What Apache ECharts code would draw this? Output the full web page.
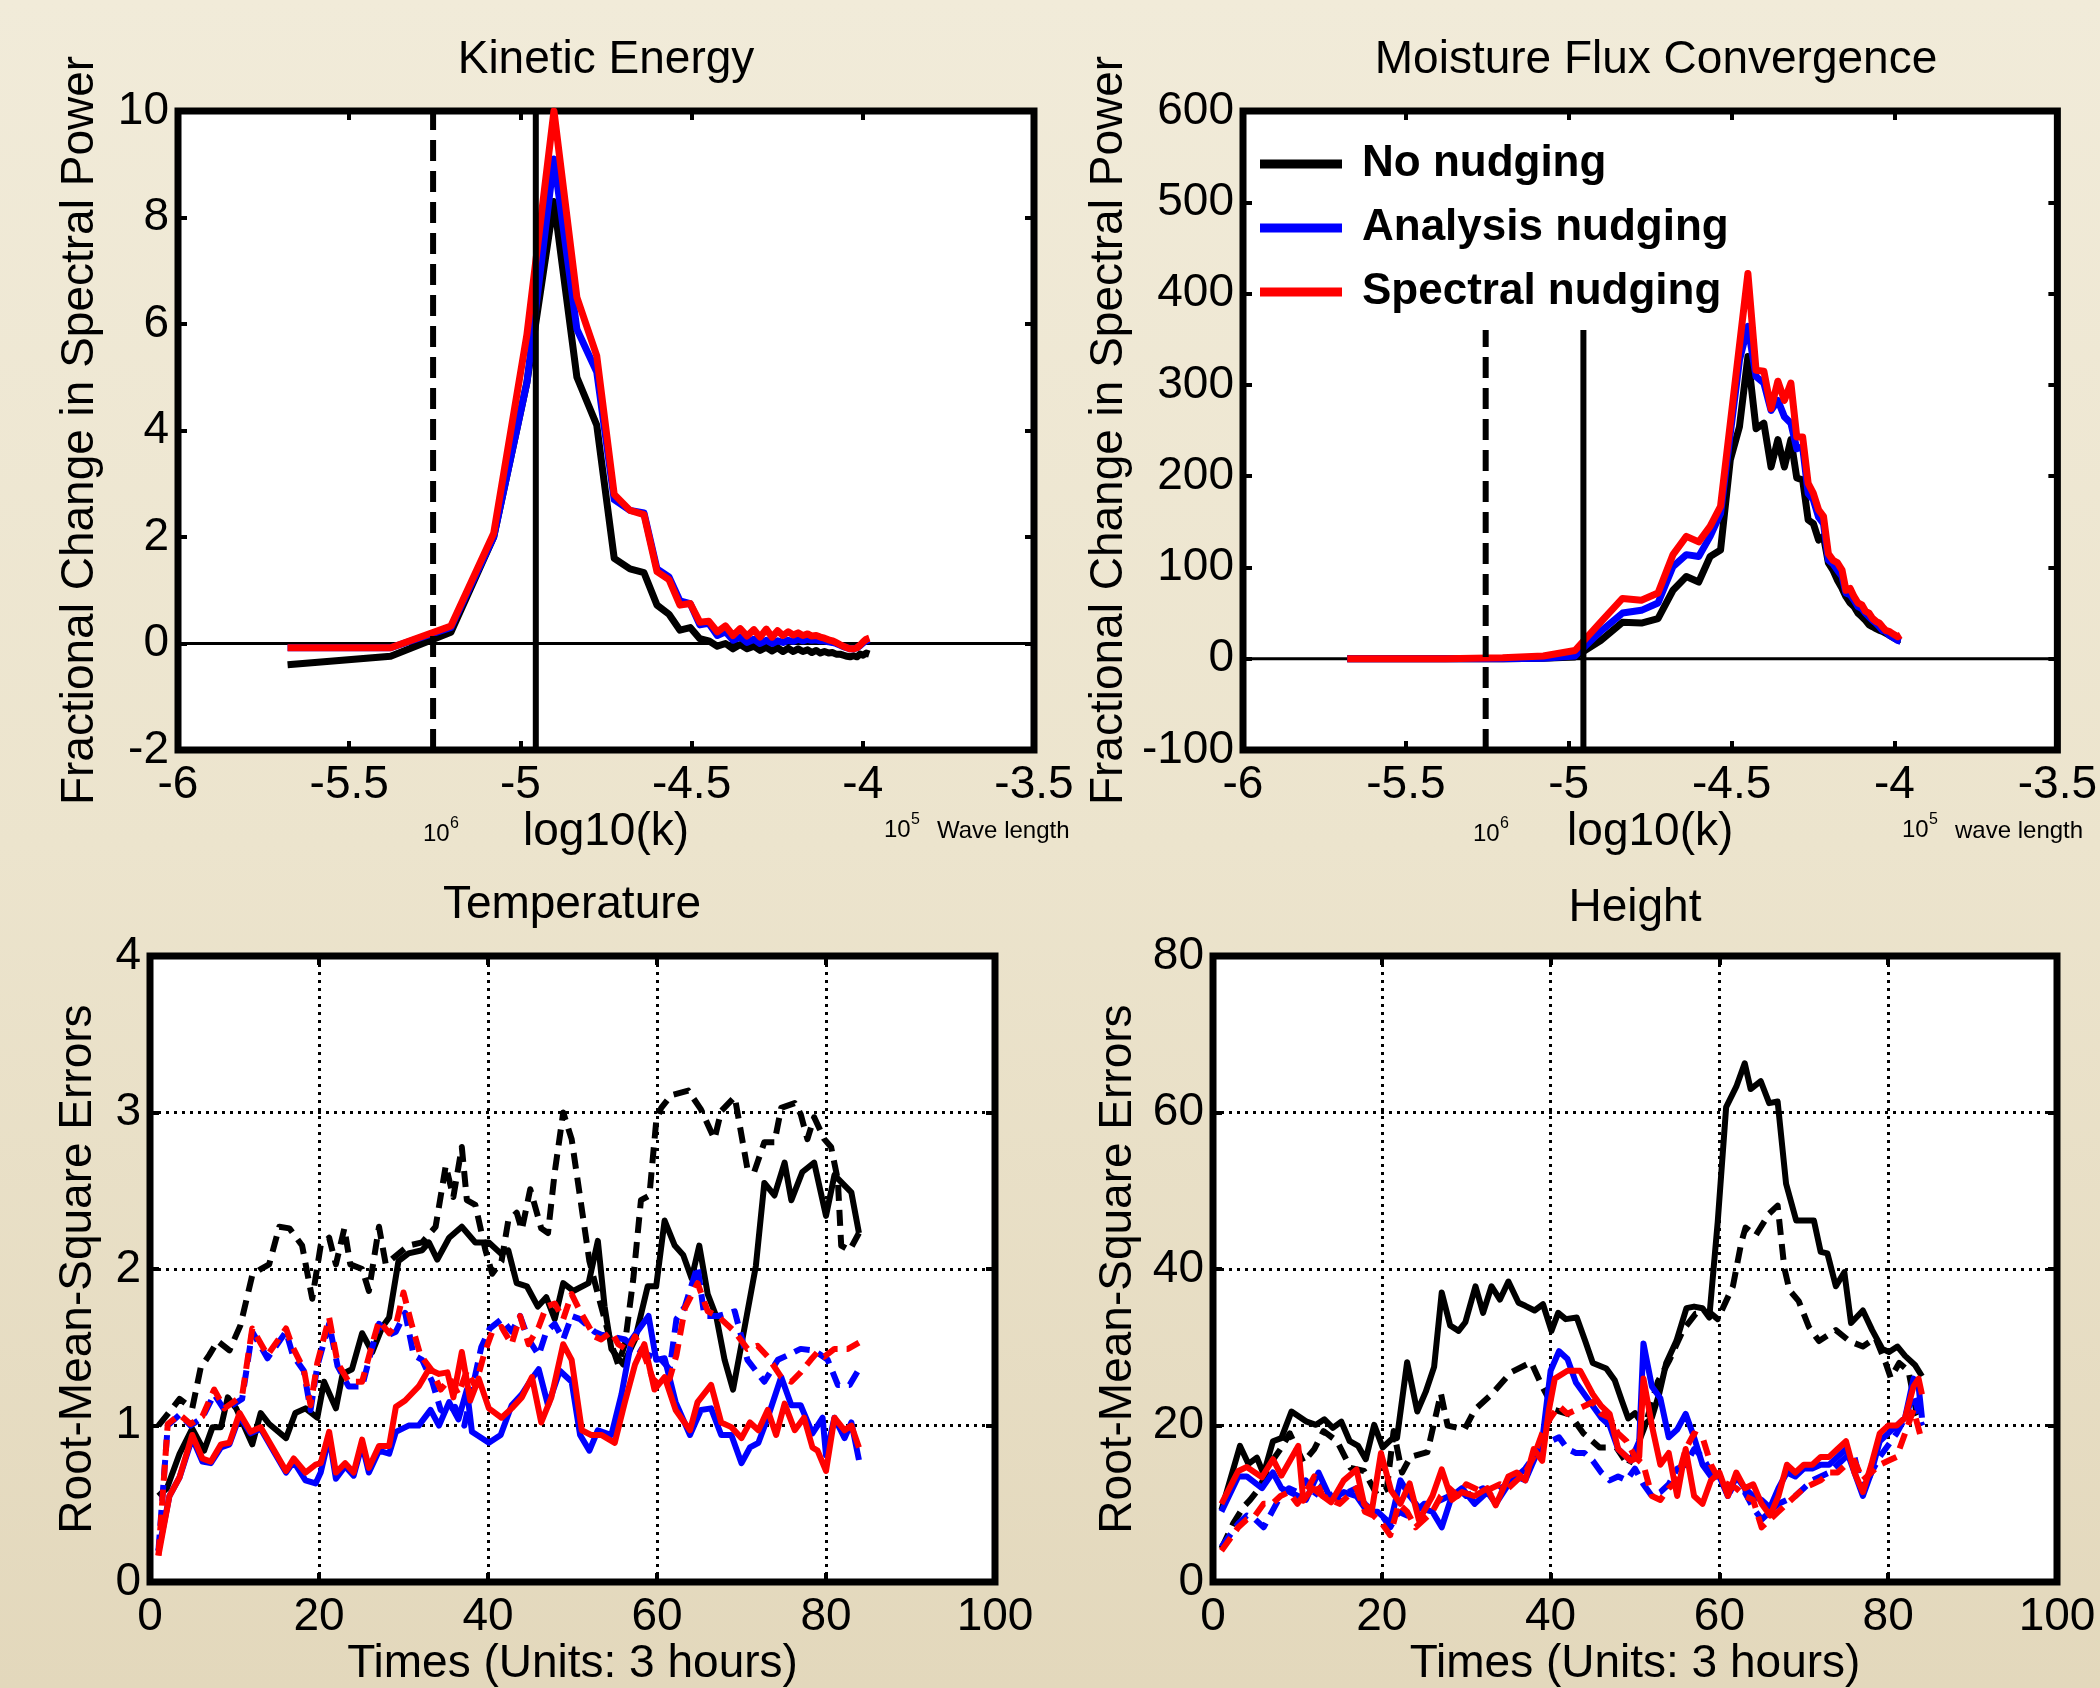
<!DOCTYPE html>
<html>
<head>
<meta charset="utf-8">
<script src="https://cdn.jsdelivr.net/npm/echarts@6/dist/echarts.min.js"></script>
<style>
  html, body { margin: 0; padding: 0; }
  body { background: linear-gradient(180deg, #f1ebd9 0%, #ece4cd 50%, #e3d8bc 100%); }
  #main { width: 2100px; height: 1688px; }
</style>
</head>
<body>
<div id="main"></div>
<script>
// log10(k) positions of the spectral wavenumbers
var logK = [-5.680, -5.379, -5.203, -5.078, -4.981, -4.902, -4.835, -4.777, -4.726, -4.680,
  -4.639, -4.601, -4.566, -4.534, -4.504, -4.476, -4.450, -4.425, -4.401, -4.379,
  -4.358, -4.338, -4.318, -4.300, -4.282, -4.265, -4.249, -4.233, -4.218, -4.203,
  -4.189, -4.175, -4.161, -4.149, -4.136, -4.124, -4.112, -4.100, -4.089, -4.078,
  -4.067, -4.057, -4.046, -4.037, -4.027, -4.017, -4.008, -3.999, -3.990, -3.981]

// Kinetic Energy
var keNo = [-0.40, -0.24, 0.21, 2.0, 4.9, 8.3, 5.0, 4.1, 1.6, 1.4, 1.33, 0.72, 0.55, 0.25, 0.3, 0.09, 0.05, -0.05, 0.0, -0.1,
  -0.02, -0.1, -0.05, -0.13, -0.07, -0.14, -0.08, -0.15, -0.09, -0.15, -0.1, -0.15, -0.12, -0.17, -0.13, -0.18, -0.15, -0.18, -0.17, -0.2,
  -0.2, -0.22, -0.24, -0.25, -0.23, -0.25, -0.2, -0.22, -0.18, -0.2]
var keAn = [-0.08, -0.08, 0.3, 2.0, 4.9, 9.1, 5.9, 5.1, 2.7, 2.5, 2.45, 1.4, 1.25, 0.8, 0.75, 0.35, 0.38, 0.15, 0.22, 0.06,
  0.12, 0.02, 0.08, 0.0, 0.06, 0.0, 0.05, 0.02, 0.06, 0.04, 0.08, 0.05, 0.08, 0.06, 0.07, 0.05, 0.05, 0.03, 0.02, 0.0,
  -0.03, -0.06, -0.08, -0.1, -0.1, -0.08, -0.04, 0.01, 0.05, 0.07]
var keSp = [-0.08, -0.08, 0.33, 2.07, 5.8, 10.0, 6.5, 5.4, 2.8, 2.5, 2.42, 1.35, 1.2, 0.72, 0.75, 0.4, 0.42, 0.22, 0.33, 0.15,
  0.28, 0.14, 0.26, 0.12, 0.27, 0.12, 0.24, 0.15, 0.22, 0.16, 0.2, 0.15, 0.18, 0.14, 0.15, 0.12, 0.1, 0.07, 0.05, 0.02,
  -0.02, -0.05, -0.08, -0.1, -0.1, -0.08, -0.03, 0.03, 0.08, 0.1]

// Moisture Flux Convergence
var mfNo = [0, 0, 0, 0.5, 2, 20, 40, 39, 44, 75, 90, 84, 112, 119, 218, 254, 331, 252, 258, 210,
  240, 210, 240, 198, 196, 152, 148, 130, 134, 105, 97, 86, 77, 68, 61, 57, 50, 46, 42, 37,
  35, 33, 31, 30, 28, 26, 24, 22, 21, 21]
var mfAn = [0, 0, 0, 0.5, 3, 30, 50, 53, 61, 101, 114, 112, 134, 159, 247, 327, 364, 309, 302, 272,
  283, 265, 258, 230, 232, 181, 174, 155, 148, 108, 104, 97, 90, 72, 70, 64, 57, 55, 50, 46,
  42, 39, 35, 31, 30, 26, 24, 22, 20, 19]
var mfSp = [0, 0, 1, 3, 9, 40, 66, 64, 72, 114, 134, 128, 145, 167, 258, 343, 422, 316, 315, 274,
  304, 283, 302, 243, 243, 192, 181, 163, 156, 115, 108, 105, 97, 75, 77, 68, 61, 59, 52, 50,
  44, 41, 39, 35, 31, 30, 28, 26, 24, 26]

// reference wavelengths (log10 k) and the top of the lines in the MFC panel
var dashedK = -5.255
var solidK = -4.955
var mfLineTop = 360

// Temperature RMSE [time, value]
var tNoSolid = [[1,0.55],[2,0.6],[3.5,0.82],[5,0.98],[6.4,0.84],[7.4,0.99],[8.4,0.99],[9.2,1.18],[10.2,1.11],[12.1,0.88],[13.1,1.08],[14.1,1.01],[16.1,0.92],[17.2,1.08],[18.4,1.11],[19.8,1.05],[20.6,1.28],[22,1.11],[22.8,1.33],[23.9,1.36],[25.1,1.59],[26.3,1.47],[27.5,1.63],[28.3,1.69],[29.4,2.05],[30.6,2.1],[32.2,2.12],[33,2.17],[34,2.06],[35.4,2.2],[36.9,2.27],[38.5,2.17],[40.1,2.17],[41.5,2.1],[42.4,2.12],[43.4,1.91],[44.6,1.89],[45.9,1.76],[46.9,1.82],[47.9,1.68],[48.9,1.91],[50.1,1.86],[51.9,1.91],[53,2.18],[53.8,1.76],[54.6,1.49],[56,1.39],[57.4,1.55],[58.9,1.89],[59.9,1.89],[60.9,2.31],[62.1,2.15],[63.1,2.09],[64.1,1.94],[65,2.15],[66,1.84],[67,1.7],[68,1.42],[69,1.23],[70,1.52],[71.7,2.02],[72.7,2.55],[73.9,2.47],[75.1,2.68],[75.9,2.44],[77.2,2.62],[78.6,2.68],[80,2.34],[81,2.6],[83,2.49],[83.9,2.23]]
var tNoDash = [[1,1.0],[1.9,1.06],[3.5,1.17],[5,1.11],[6,1.37],[7,1.45],[8,1.54],[9.4,1.48],[10.7,1.64],[12.1,1.96],[13.1,2.0],[14.1,2.03],[15.3,2.27],[16.5,2.26],[18,2.15],[19.2,1.81],[20.2,2.15],[21.2,2.2],[22,2.03],[23,2.26],[23.7,2.03],[25.1,2.0],[25.9,1.86],[27.1,2.27],[27.9,2.03],[29,2.08],[30.6,2.15],[32.2,2.17],[33.8,2.27],[35,2.66],[35.9,2.46],[36.9,2.78],[37.5,2.44],[38.5,2.41],[39.7,2.12],[40.5,1.97],[41.6,2.05],[42.4,2.31],[43.4,2.36],[44,2.25],[45,2.51],[46.3,2.26],[47.1,2.23],[47.9,2.62],[48.9,3.0],[49.9,2.83],[52,2.05],[53,1.84],[54.6,1.52],[55.4,1.39],[56.2,1.52],[57.2,1.94],[58.1,2.44],[59.1,2.47],[59.9,2.94],[60.5,3.03],[61.7,3.11],[63.7,3.14],[65.2,3.02],[66.8,2.83],[67.6,3.01],[69.2,3.1],[70.7,2.64],[71.5,2.62],[72.7,2.81],[73.9,2.81],[74.7,3.03],[76.3,3.06],[77,2.99],[77.8,2.83],[78.6,2.97],[79.8,2.83],[80.6,2.78],[81.4,2.57],[81.8,2.15],[82.8,2.12],[83.9,2.23]]
var tAnSolid = [[1,0.2],[2.3,0.55],[3.5,0.67],[5,0.92],[6.2,0.77],[7.2,0.76],[8.4,0.86],[9.4,0.88],[10.6,1.06],[11.9,0.95],[13.1,0.98],[14.7,0.83],[16.1,0.7],[17,0.77],[18.4,0.65],[19.6,0.63],[20.2,0.7],[21.2,0.93],[22,0.66],[23.1,0.74],[24.1,0.68],[25.1,0.88],[25.9,0.7],[27.1,0.84],[28.3,0.82],[29.1,0.96],[30.6,1.0],[31.8,1.0],[33.2,1.1],[34.2,1.0],[35.4,1.15],[36.5,1.04],[37.5,1.23],[38.1,0.96],[40.1,0.89],[41.5,0.94],[42.8,1.13],[44,1.2],[45.2,1.3],[46,1.36],[47.1,1.13],[48.5,1.35],[49.9,1.28],[50.9,0.94],[52,0.84],[53,0.97],[54.6,0.94],[55.8,1.2],[57,1.55],[59,1.7],[59.9,1.42],[60.9,1.43],[62.2,1.15],[63.9,0.94],[65.2,1.1],[66.4,1.11],[67.6,0.94],[68.8,0.94],[70,0.76],[71,0.86],[72,0.89],[73.1,1.05],[74.7,1.31],[75.9,1.13],[77,1.13],[78.4,0.95],[79.6,1.05],[80,0.81],[81,1.05],[82.2,0.92],[83,1.02],[83.9,0.78]]
var tAnDash = [[1,0.2],[2.1,1.0],[3.5,1.07],[4.8,1.0],[6.2,1.05],[7.6,1.2],[8.8,1.1],[10.9,1.17],[12.1,1.6],[13.9,1.43],[16.1,1.6],[16.9,1.45],[18.2,1.35],[19,1.1],[19.8,1.38],[21.2,1.65],[22.2,1.38],[23.5,1.25],[25.1,1.25],[26.3,1.5],[27.1,1.65],[28.3,1.58],[29.1,1.6],[30.2,1.72],[31.2,1.45],[32.2,1.42],[33.4,1.28],[34.4,1.1],[35.4,1.06],[36.1,1.12],[37.2,1.0],[38.2,1.25],[39.2,1.5],[40.2,1.62],[41.6,1.68],[42.8,1.6],[43.8,1.7],[44.8,1.55],[46,1.45],[46.9,1.6],[47.9,1.65],[48.9,1.55],[49.9,1.7],[50.9,1.68],[52.6,1.6],[53.4,1.58],[54.6,1.57],[56.2,1.55],[57.4,1.5],[59,1.45],[60.5,1.42],[61.5,1.36],[62.3,1.68],[63.3,1.76],[64.8,2.02],[65.6,1.7],[67.2,1.7],[69.2,1.73],[70.7,1.42],[72.7,1.28],[74.3,1.42],[75.5,1.45],[77,1.49],[78.6,1.48],[80.2,1.42],[81.4,1.26],[82.8,1.26],[83.9,1.36]]
var tSpSolid = [[1,0.17],[2.3,0.55],[3.5,0.67],[5,0.94],[6.2,0.79],[7.2,0.77],[8.4,0.88],[9.4,0.89],[10.6,1.08],[11.9,0.96],[13.1,0.99],[14.7,0.84],[16.1,0.71],[17,0.79],[18.4,0.7],[19.6,0.75],[20.2,0.76],[21.2,0.96],[22,0.7],[23.1,0.76],[24.1,0.7],[25.1,0.91],[25.9,0.73],[27.1,0.87],[28.3,0.87],[29.1,1.12],[30.2,1.16],[31.8,1.25],[33,1.36],[34.2,1.33],[35.2,1.34],[35.9,1.18],[36.9,1.47],[37.9,1.16],[38.9,1.3],[40.1,1.11],[41.6,1.05],[42.8,1.11],[44,1.18],[45.2,1.31],[46.3,1.02],[47.5,1.18],[48.9,1.52],[49.9,1.42],[51.1,0.97],[52.2,0.94],[53.4,0.94],[55,0.89],[56.2,1.15],[57.4,1.39],[58.5,1.52],[59.7,1.23],[60.9,1.31],[62.2,1.1],[63.9,0.97],[64.8,1.15],[66.4,1.26],[67.6,1.02],[68.8,0.99],[70,0.92],[71,1.02],[72,0.97],[73.1,1.1],[74.1,0.94],[75.1,1.14],[76.3,0.97],[77.4,1.05],[78.4,0.86],[79,0.84],[80,0.71],[81,1.05],[82.2,0.97],[83,1.0],[83.9,0.86]]
var tSpDash = [[1,0.17],[2.1,1.01],[3.5,1.07],[4.8,1.01],[6.2,1.06],[7.6,1.23],[8.8,1.11],[10.9,1.19],[12.1,1.62],[13.9,1.45],[16.1,1.62],[16.9,1.5],[18.2,1.36],[19,1.13],[19.8,1.4],[21.2,1.69],[22.2,1.4],[23.5,1.28],[25.1,1.28],[26.3,1.52],[27.1,1.67],[28.3,1.59],[29.1,1.64],[30,1.85],[31,1.64],[32,1.45],[33.4,1.35],[34.4,1.23],[35.5,1.3],[36.5,1.2],[37.5,1.35],[38.5,1.25],[39.5,1.45],[40.5,1.6],[41.6,1.63],[42.8,1.52],[43.8,1.7],[44.8,1.52],[46,1.63],[46.9,1.76],[47.9,1.78],[48.9,1.68],[49.9,1.84],[50.9,1.73],[52.6,1.57],[53.4,1.55],[54.6,1.6],[55.4,1.52],[56.6,1.48],[57.4,1.57],[58.5,1.45],[59.5,1.3],[60.5,1.25],[61.5,1.3],[62.3,1.45],[63.3,1.75],[64.8,1.91],[66,1.73],[67.2,1.7],[69.2,1.6],[70.7,1.49],[71.9,1.51],[73.1,1.44],[74.7,1.31],[75.9,1.28],[77,1.34],[78.2,1.42],[79,1.47],[79.8,1.44],[81,1.49],[82.6,1.49],[83.9,1.53]]

// Height RMSE [time, value]
var hNoSolid = [[1,9.2],[3.2,17.4],[4.2,15.1],[5.2,15.9],[6,13.8],[7.1,18],[8.1,18.4],[9.3,21.8],[11.1,20.5],[12.2,20.1],[13.2,20.8],[14.2,19.7],[15.2,20.5],[16.2,18],[17.2,17.4],[18.1,15.7],[19.1,20.1],[20.1,17.2],[21.1,18.2],[21.8,18.4],[23,28.1],[24.2,21.8],[25.2,24.3],[26.2,27.5],[27.1,37],[28.1,32.8],[29.1,32.1],[29.9,33.2],[31.1,37.8],[32,34.4],[33,37.8],[34,36.1],[35,38.4],[36.2,35.7],[37,35.3],[38.1,34.7],[39.1,35.5],[40.1,32.1],[40.9,34.4],[41.8,33.6],[43.1,33.8],[44.1,30.8],[45,28],[46.6,27.3],[47.6,25.8],[48.4,23.3],[49.2,20.9],[50,21.6],[51,20],[52,21],[52.9,24.2],[53.7,28],[54.9,30.8],[56.1,35],[57,35.2],[58,35],[58.8,33.8],[59.8,46],[60.8,60.7],[62,63.3],[63,66.3],[63.7,63],[64.9,64],[65.9,61.2],[66.9,61.4],[67.9,50.9],[69.1,46.2],[71.2,46.2],[72,42.2],[72.8,42],[73.8,37.8],[74.8,39.6],[75.6,33.1],[77,34.7],[78.1,32.2],[79.3,29.8],[80.1,29.4],[81.1,30.1],[82,28.9],[83.2,27.7],[84,26.3]]
var hNoDash = [[1,4.3],[2.4,7.5],[3.6,9.6],[4.4,10.5],[5.5,12],[6.7,15],[8,17],[9.1,19],[10.7,15.3],[12,17],[13.1,19.3],[14.7,18],[16.3,14.6],[17.9,14.2],[19.4,11.2],[20.6,11.9],[21.4,19.3],[22.4,14],[23.4,16],[25.4,16.6],[27,24.1],[27.8,20],[29.8,19.5],[31,22],[33,24],[35.3,26.8],[37.7,28.1],[39,25],[40.5,22],[42.3,21.4],[43.9,19],[45.8,17.2],[47.8,17.2],[49.2,14.9],[50.2,17.2],[51.2,20],[52.7,25.6],[54.1,28.4],[55.7,32.2],[57.2,34.3],[58.8,34.5],[59.8,33.6],[61.6,37.8],[62.6,43.4],[63.1,45.3],[64.3,44.3],[65.9,47.1],[66.9,48.1],[67.7,40.1],[68.3,37.3],[69.4,35.9],[70.6,32.6],[71.8,30.8],[73.8,32.2],[75.4,30.8],[77,30.1],[78.5,31.2],[79.7,28],[80.3,26.1],[81.3,28],[82.4,27],[83.4,21.4],[84,20]]
var hAnSolid = [[1,9],[3,13.5],[4,13.5],[5.8,12],[7.1,14],[8.1,12],[10.1,11],[11,10.5],[12.5,14],[14,10.5],[15.5,11.5],[17,11],[18.3,9],[19.5,9],[21,7.5],[22.2,13],[23.3,11],[24.4,9.5],[26,9],[27.1,7],[28.3,11],[29.5,12],[31,10],[32.5,11.5],[33.5,10],[35,12.5],[36,13.5],[37,13],[38,15.5],[39,18],[40,27],[41,29.5],[42,28.5],[43,25.5],[45,22.5],[46,21],[47,20],[48,17],[49.5,15.5],[50.5,18],[51,30.5],[52,25],[53,23.5],[54,18.5],[55,19.5],[56,21.5],[57,18.5],[58,15],[59,13.5],[60,13.5],[61,11],[62,13.5],[63,12],[64,11],[65,10.5],[66,9.5],[67,12],[68,14],[69,13.5],[70,14.5],[71,14.5],[72,15],[73,15],[74,16],[75,17],[76,14],[77,11],[78,14],[79,18],[80,19],[81,20],[82,21],[83,26],[83.6,25],[84,21]]
var hAnDash = [[1,4.5],[2,6],[3,7.5],[4,8.5],[5,8],[6,7],[7,9],[8,11],[9,12],[10,11.5],[11,13],[12,11],[13,12.5],[14,11],[15,10.5],[16,11.5],[17,12],[18,10],[19,9],[20,8.5],[21,7],[22,9],[23,8.5],[24,9],[25,10],[26,10],[27,10.5],[28,11],[29,12],[30,11],[31,11.5],[32,12],[33,11],[34,12],[35,12.5],[36,13.5],[37,14.5],[38,16],[39,17.5],[40,18],[41,18.5],[42,17],[43,16.5],[44,16.5],[45,15.5],[46,14],[47,13],[48,13.5],[49,13],[50,14.5],[51,12.5],[52,11],[53,11.5],[54,12.5],[55,14.5],[56,15],[57,17],[58,16],[59,14],[60,13],[61,12],[62,11.5],[63,11.5],[64,9.5],[65,8],[66,9],[67,10],[68,10.5],[69,11],[70,12],[71,13],[72,13.5],[73,14],[74,15],[75,16],[76,16],[77,11.5],[78,14],[79,16],[80,17.5],[81,19],[82,21],[83,24],[84,20]]
var hSpSolid = [[1,10],[3,14.2],[4,14.7],[5.8,13.4],[7.1,15.7],[8.1,13.6],[10.1,17.4],[10.7,10.4],[11.8,12],[13,11],[14,10.2],[15.5,13],[17,14.4],[17.9,10],[18.8,9],[19.9,16.5],[21.1,11.7],[22.2,10],[23.3,12.6],[24.4,7.9],[26,11],[27.1,14.4],[28.3,10.5],[29.5,11.5],[31,11],[32.5,12],[33.5,9.8],[35,13.5],[36,14],[37,13],[38,17],[39,15.5],[39.8,22],[40.5,26],[42,27],[43.5,27],[45,24],[46,22.5],[47,21.5],[48,17],[49.5,15.5],[50.5,16],[51,26],[52,20],[53,15],[54,16.5],[55,11],[56,17],[57,11],[58,10],[59,13],[60,14],[61,11],[62,14],[63,12],[64,12.5],[65,10],[66,8.5],[67,11],[68,15],[69,14],[70,15],[71,15],[72,16],[73,16],[74,17],[75,18],[76,14],[77,11.5],[78,15],[79,19],[80,20],[81,20],[82,21],[83,25],[83.6,26],[84,24]]
var hSpDash = [[1,4],[2,5.5],[3,7],[4,8],[5,8.5],[6,10],[7,10],[8,11],[9,11.5],[10,10],[11,11.5],[12,13.5],[13,11],[14,10.5],[15,10],[16,11],[17,12],[18,9],[19,8.5],[20,7.5],[21,6],[22,10],[23,9],[24,7],[25,8],[26,9],[27,11],[28,12],[29,11],[30,12.5],[31,12],[32,11.5],[33,12],[34,12.5],[35,12],[36,13],[37,14],[38,16],[39,19],[40,21],[41,22.5],[42,21.5],[43,22],[44,22.5],[45,23],[46,21.5],[47,21],[48,19],[49,18],[50,16],[51,15],[52,11],[53,10.5],[54,12],[55,13],[56,17],[57,19],[58,18.5],[59,15],[60,13],[61,12.5],[62,12],[63,11],[64,10.5],[65,7],[66,8],[67,9],[68,10],[69,11],[70,12],[71,12.5],[72,13],[73,14],[74,14],[75,15],[76,15.5],[77,13],[78,14],[79,15],[80,15.5],[81,16],[82,19],[83,22],[84,18]]

var FONT = '"Liberation Sans", Arial, sans-serif'
var BLACK = '#000000', BLUE = '#0000ff', RED = '#ff0000'

var chart = echarts.init(document.getElementById('main'), null, { renderer: 'canvas' })

function zip(xs, ys) {
  return xs.map(function (x, i) { return [x, ys[i]] })
}

var tick = { inside: true, length: 9, lineStyle: { color: '#000', width: 4 } }
var nameStyle = { color: '#000', fontSize: 46, fontFamily: FONT }
var dotted = { show: true, lineStyle: { color: '#000', width: 3, type: [3, 5] } }
var noLine = { show: false, onZero: false }

function xPair(g, min, max, step, name, gap, grid) {
  return [{
    gridIndex: g, type: 'value', min: min, max: max, interval: step, position: 'bottom',
    axisLine: noLine, axisTick: tick,
    axisLabel: { color: '#000', fontSize: 46, fontFamily: FONT, margin: 12, showMinLabel: true, showMaxLabel: true },
    splitLine: grid ? dotted : { show: false },
    name: name, nameLocation: 'middle', nameGap: gap, nameTextStyle: nameStyle
  }, {
    gridIndex: g, type: 'value', min: min, max: max, interval: step, position: 'top',
    axisLine: noLine, axisTick: tick, axisLabel: { show: false }, splitLine: { show: false }
  }]
}

function yPair(g, min, max, step, name, gap, grid) {
  return [{
    gridIndex: g, type: 'value', min: min, max: max, interval: step, position: 'left',
    axisLine: noLine, axisTick: tick,
    axisLabel: { color: '#000', fontSize: 46, fontFamily: FONT, margin: 9, showMinLabel: true, showMaxLabel: true },
    splitLine: grid ? dotted : { show: false },
    name: name, nameLocation: 'middle', nameGap: gap, nameTextStyle: nameStyle
  }, {
    gridIndex: g, type: 'value', min: min, max: max, interval: step, position: 'right',
    axisLine: noLine, axisTick: tick, axisLabel: { show: false }, splitLine: { show: false }
  }]
}

function line(name, data, g, color, width, dash, z) {
  return {
    type: 'line', name: name, xAxisIndex: g * 2, yAxisIndex: g * 2, data: data,
    symbol: 'none', showSymbol: false, silent: true, animation: false, z: z || 3,
    lineStyle: { color: color, width: width, type: dash || 'solid', join: 'round' },
    itemStyle: { color: color }
  }
}

var gridBox = { show: true, backgroundColor: '#ffffff', borderColor: '#000000', borderWidth: 7 }

var series = [
  // Kinetic Energy
  line('zeroKE', [[-6, 0], [-3.5, 0]], 0, BLACK, 3, null, 2),
  line('No nudging', zip(logK, keNo), 0, BLACK, 7),
  line('Analysis nudging', zip(logK, keAn), 0, BLUE, 7),
  line('Spectral nudging', zip(logK, keSp), 0, RED, 7),
  line('dashKE', [[dashedK, -2], [dashedK, 10]], 0, BLACK, 6, [21, 10], 5),
  line('solidKE', [[solidK, -2], [solidK, 10]], 0, BLACK, 6, null, 5),
  // Moisture Flux Convergence
  line('zeroMF', [[-6, 0], [-3.5, 0]], 1, BLACK, 3, null, 2),
  line('No nudging', zip(logK, mfNo), 1, BLACK, 7),
  line('Analysis nudging', zip(logK, mfAn), 1, BLUE, 7),
  line('Spectral nudging', zip(logK, mfSp), 1, RED, 7),
  line('dashMF', [[dashedK, -100], [dashedK, mfLineTop]], 1, BLACK, 6, [21, 10], 5),
  line('solidMF', [[solidK, -100], [solidK, mfLineTop]], 1, BLACK, 6, null, 5),
  // Temperature
  line('No nudging', tNoSolid, 2, BLACK, 6),
  line('No nudging dashed', tNoDash, 2, BLACK, 6, [16, 9]),
  line('Analysis nudging', tAnSolid, 2, BLUE, 6),
  line('Analysis nudging dashed', tAnDash, 2, BLUE, 6, [16, 9]),
  line('Spectral nudging', tSpSolid, 2, RED, 6),
  line('Spectral nudging dashed', tSpDash, 2, RED, 6, [16, 9]),
  // Height
  line('No nudging', hNoSolid, 3, BLACK, 6),
  line('No nudging dashed', hNoDash, 3, BLACK, 6, [16, 9]),
  line('Analysis nudging', hAnSolid, 3, BLUE, 6),
  line('Analysis nudging dashed', hAnDash, 3, BLUE, 6, [16, 9]),
  line('Spectral nudging', hSpSolid, 3, RED, 6),
  line('Spectral nudging dashed', hSpDash, 3, RED, 6, [16, 9])
]

function txt(text, x, y, size, weight) {
  return {
    type: 'text', x: x, y: y, silent: true, z: 10,
    style: {
      text: text, fill: '#000', fontSize: size, fontFamily: FONT, fontWeight: weight || 'normal',
      textAlign: 'center', textVerticalAlign: 'middle', align: 'center', verticalAlign: 'middle'
    }
  }
}
function txtL(text, x, y, size) {
  return {
    type: 'text', x: x, y: y, silent: true, z: 10,
    style: {
      text: text, fill: '#000', fontSize: size, fontFamily: FONT,
      textAlign: 'left', textVerticalAlign: 'middle', align: 'left', verticalAlign: 'middle'
    }
  }
}

chart.setOption({
  backgroundColor: 'transparent',
  animation: false,
  grid: [
    Object.assign({ left: 178, top: 111, width: 856, height: 639 }, gridBox),
    Object.assign({ left: 1243, top: 111, width: 826, height: 639 }, gridBox),
    Object.assign({ left: 150, top: 956, width: 845, height: 634 }, gridBox),
    Object.assign({ left: 1213, top: 956, width: 844, height: 634 }, gridBox)
  ],
  xAxis: [].concat(
    xPair(0, -6, -3.5, 0.5, 'log10(k)', 56, false),
    xPair(1, -6, -3.5, 0.5, 'log10(k)', 56, false),
    xPair(2, 0, 100, 20, 'Times (Units: 3 hours)', 52, true),
    xPair(3, 0, 100, 20, 'Times (Units: 3 hours)', 52, true)
  ),
  yAxis: [].concat(
    yPair(0, -2, 10, 2, 'Fractional Change in Spectral Power', 75, false),
    yPair(1, -100, 600, 100, 'Fractional Change in Spectral Power', 111, false),
    yPair(2, 0, 4, 1, 'Root-Mean-Square Errors', 49, true),
    yPair(3, 0, 80, 20, 'Root-Mean-Square Errors', 72, true)
  ),
  legend: {
    show: true, selectedMode: false, orient: 'vertical',
    left: 1255, top: 134, itemWidth: 82, itemHeight: 9, itemGap: 14,
    icon: 'rect',
    textStyle: { color: '#000', fontSize: 44, fontWeight: 'bold', fontFamily: FONT, lineHeight: 50, padding: [0, 0, 0, 15] },
    data: [
      { name: 'No nudging', itemStyle: { color: BLACK } },
      { name: 'Analysis nudging', itemStyle: { color: BLUE } },
      { name: 'Spectral nudging', itemStyle: { color: RED } }
    ]
  },
  graphic: [
    txt('Kinetic Energy', 606, 60, 46),
    txt('Moisture Flux Convergence', 1656, 60, 46),
    txt('Temperature', 572, 905, 46),
    txt('Height', 1635, 908, 46),
    txtL('10', 423, 834, 24), txtL('6', 450, 824, 16),
    txtL('10', 884, 830, 24), txtL('5', 911, 820, 16),
    txtL('Wave length', 937, 831, 24),
    txtL('10', 1473, 834, 24), txtL('6', 1500, 824, 16),
    txtL('10', 1902, 830, 24), txtL('5', 1929, 820, 16),
    txtL('wave length', 1955, 831, 24)
  ],
  series: series
})
</script>
</body>
</html>
